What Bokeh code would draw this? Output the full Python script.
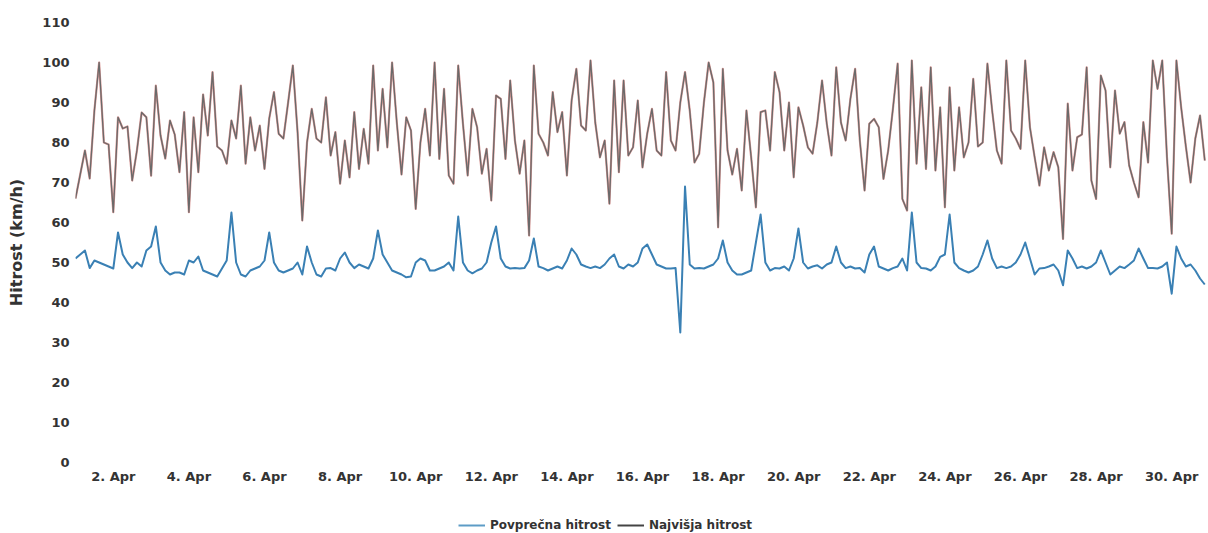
import numpy as np
from bokeh.plotting import figure
from bokeh.layouts import column
from bokeh.models import FixedTicker, Legend, LegendItem
from bokeh.embed import file_html
from bokeh.resources import INLINE

# 3-hourly readings, 1 Apr 00:00 .. 30 Apr 21:00
avg_speed = [
    51, 52, 53, 48.6, 50.5, 50, 49.5, 49,
    48.5, 57.5, 52, 50, 48.6, 50, 49, 53,
    54, 59, 50, 48, 47, 47.5, 47.5, 47,
    50.5, 50, 51.5, 48, 47.5, 47, 46.5, 48.5,
    50.5, 62.5, 50, 47, 46.5, 48, 48.5, 49,
    50.5, 57.5, 50, 48, 47.5, 48, 48.5, 50,
    47, 54, 50, 47, 46.5, 48.5, 48.6, 48,
    51, 52.5, 50, 48.6, 49.5, 49, 48.5, 51,
    58, 52, 50, 48, 47.5, 47, 46.3, 46.5,
    50, 51, 50.5, 48, 48, 48.5, 49, 50,
    48, 61.5, 50, 48, 47.3, 48, 48.5, 50,
    55, 59, 51, 49, 48.5, 48.6, 48.5, 48.6,
    50.5, 56, 49, 48.6, 48, 48.5, 49, 48.5,
    50.5, 53.5, 52, 49.5, 49, 48.6, 49, 48.6,
    49.5, 51, 52, 49, 48.5, 49.5, 49, 50,
    53.5, 54.5, 52, 49.5, 49, 48.5, 48.5, 48.6,
    32.5, 69, 49.5, 48.5, 48.6, 48.5, 49, 49.5,
    51, 55.5, 50, 48, 47, 47, 47.5, 48,
    55, 62, 50, 48, 48.6, 48.5, 49, 48,
    51, 58.5, 50, 48.5, 49, 49.3, 48.5, 49.5,
    50, 54, 50, 48.6, 49, 48.5, 48.6, 47.5,
    52, 54, 49, 48.5, 48, 48.6, 49, 51,
    48, 62.5, 50, 48.6, 48.5, 48, 49, 51.4,
    52, 62, 50, 48.6, 48, 47.5, 48, 49,
    52, 55.5, 51, 48.6, 49, 48.6, 49, 50,
    52, 55, 51, 47, 48.5, 48.6, 49, 49.5,
    48, 44.3, 53, 51, 48.6, 49, 48.5, 49,
    50, 53, 50, 47, 48, 49, 48.6, 49.5,
    50.5, 53.5, 51, 48.6, 48.6, 48.5, 49, 50,
    42.2, 54, 51, 49, 49.5, 48, 46, 44.5,
]

max_speed = [
    66, 72, 78, 71, 88, 100, 80, 79.5,
    62.6, 86.3, 83.5, 84, 70.5, 78, 87.5, 86.3,
    71.7, 94.2, 81.75, 76, 85.5, 82, 72.6, 87.6,
    62.6, 86.3, 72.6, 92, 81.75, 97.6, 79, 78,
    74.7, 85.5, 81, 94.2, 74.7, 86.3, 78, 84.2,
    73.4, 86, 92.6, 82.2, 81, 90, 99.25, 82.6,
    60.5, 80, 88.4, 81, 80, 91.3, 76.75, 82.6,
    69.7, 80.5, 71.3, 87.6, 73.4, 83.4, 74.7, 99.25,
    78, 93.4, 78.8, 100, 85, 72, 86.3, 83,
    63.4, 80, 88.4, 76.75, 100, 75.9, 93.4, 71.75,
    69.7, 99.25, 84.7, 71.75, 88.4, 83.8, 72.2, 78.4,
    65.5, 91.75, 90.9, 75.9, 95.5, 80.5, 72.2, 80.5,
    56.75, 99.25, 82.2, 80, 76.75, 92.6, 82.6, 87.6,
    71.75, 90.5, 98.4, 84.25, 83, 100.5, 85, 76.3,
    80.5, 64.7, 95.5, 72.6, 95.5, 76.75, 78.8, 90.5,
    73.8, 82.2, 88.4, 78, 76.75, 97.6, 80.5, 78,
    90, 97.6, 88, 75, 77.2, 90, 100, 95,
    58.8, 98.4, 78, 72, 78.4, 68, 88, 76.3,
    63.8, 87.6, 88, 78, 97.6, 92.6, 78, 90,
    71.3, 88.8, 84.25, 78.8, 77.2, 85, 95.5, 84.7,
    76.75, 98.8, 85, 80.5, 90.9, 98.4, 80.5, 68,
    84.7, 85.9, 83.8, 70.9, 78, 88.4, 99.7, 65.9,
    63, 100.5, 74.7, 93.8, 73.4, 98.8, 73, 88.8,
    63.8, 93.8, 73, 88.8, 76.3, 80, 95.9, 79,
    80, 99.7, 88, 78, 74.7, 100.5, 83, 81,
    78.4, 100.5, 83.8, 76.3, 69.25, 78.8, 73, 77.6,
    73.8, 55.9, 89.7, 73, 81.3, 82, 98.8, 70.5,
    65.9, 96.75, 93, 73.8, 93, 82.2, 85.1, 74.25,
    70, 66.3, 85.1, 75, 100.5, 93.4, 100.5, 76.3,
    57.2, 100.5, 88.8, 79, 70, 81, 86.75, 75.5,
]

step_hours = 3
first_day = 1  # 1 Apr 00:00
tick_days = list(range(2, 31, 2))
tick_labels = [f"{d}. Apr" for d in tick_days]
y_ticks = list(range(0, 111, 10))
series_names = ["Povprečna hitrost", "Najvišja hitrost"]
y_title = "Hitrost (km/h)"

AVG_COLOR = "#3a80b4"
MAX_COLOR = "#6a6a6a"
MAX_TINT = "#c96a66"

x = first_day + np.arange(len(avg_speed)) * step_hours / 24.0

FRAME_LEFT = 75
W = 1208
H_MAIN, H_LEG = 503, 30
px_per_day = 37.8

p = figure(width=W, height=H_MAIN, output_backend="svg", toolbar_location=None,
           x_range=(first_day, first_day + (W - FRAME_LEFT) / px_per_day),
           y_range=(0, 110),
           min_border_left=FRAME_LEFT, min_border_right=0,
           min_border_top=22, min_border_bottom=H_MAIN - 462)
p.outline_line_color = None
p.xgrid.visible = False
p.ygrid.visible = False

p.line(x, max_speed, line_color=MAX_TINT, line_width=2.2, line_alpha=0.7, line_join="round")
p.line(x, max_speed, line_color=MAX_COLOR, line_width=1.3, line_join="round")
p.line(x, avg_speed, line_color=AVG_COLOR, line_width=2.0, line_join="round")

for ax in (p.xaxis[0], p.yaxis[0]):
    ax.axis_line_color = None
    ax.major_tick_line_color = None
    ax.minor_tick_line_color = None
    ax.major_tick_in = 0
    ax.major_tick_out = 0
    ax.minor_tick_in = 0
    ax.minor_tick_out = 0
    ax.major_label_text_font = "DejaVu Sans"
    ax.major_label_text_font_style = "bold"
    ax.major_label_text_font_size = "13px"
    ax.major_label_text_color = "#333333"

p.xaxis.ticker = FixedTicker(ticks=tick_days)
p.xaxis.major_label_overrides = {d: lab for d, lab in zip(tick_days, tick_labels)}
p.xaxis.major_label_standoff = 6

p.yaxis.ticker = FixedTicker(ticks=y_ticks)
p.yaxis.major_label_standoff = 6
p.yaxis.axis_label = y_title
p.yaxis.axis_label_text_font = "DejaVu Sans"
p.yaxis.axis_label_text_font_style = "bold"
p.yaxis.axis_label_text_font_size = "16px"
p.yaxis.axis_label_text_color = "#333333"
p.yaxis.axis_label_standoff = 13

# legend strip underneath the chart (legend-only renderers, no visible data)
lg = figure(width=W, height=H_LEG, output_backend="svg", toolbar_location=None,
            x_range=(0, 1), y_range=(0, 1),
            min_border_left=0, min_border_right=0, min_border_top=0, min_border_bottom=0)
lg.axis.visible = False
lg.xgrid.visible = False
lg.ygrid.visible = False
lg.outline_line_color = None
k_avg = lg.line([np.nan], [np.nan], line_color="#5d9cc6", line_width=2)
k_max = lg.line([np.nan], [np.nan], line_color="#444444", line_width=2)

legend = Legend(items=[LegendItem(label=series_names[0], renderers=[k_avg]),
                       LegendItem(label=series_names[1], renderers=[k_max])],
                location=(383, 1), orientation="horizontal",
                padding=0, margin=0, spacing=6, label_standoff=5,
                glyph_width=27, glyph_height=14,
                label_text_font="DejaVu Sans", label_text_font_style="bold",
                label_text_font_size="12px", label_text_color="#333333",
                border_line_color=None, background_fill_alpha=0)
lg.add_layout(legend, "center")

layout = column(p, lg, spacing=0)
open("out.html", "w").write(file_html(layout, INLINE))
